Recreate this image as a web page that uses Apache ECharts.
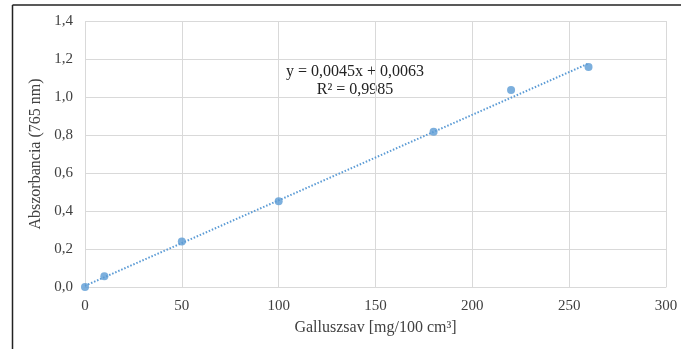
<!DOCTYPE html>
<html>
<head>
<meta charset="utf-8">
<script src="https://cdn.jsdelivr.net/npm/echarts@6/dist/echarts.min.js"></script>
<style>
  html, body { margin: 0; padding: 0; background: #fff; }
  #chart { width: 681px; height: 349px; }
</style>
</head>
<body>
<div id="chart"></div>
<script>
// Calibration standards: gallic acid concentration vs. absorbance at 765 nm
const concentrations = [0, 10, 50, 100, 180, 220, 260];
const absorbances = [0.0, 0.056, 0.240, 0.451, 0.817, 1.037, 1.158];

// Linear fit reported on the chart
const slope = 0.0045;
const intercept = 0.0063;
const rSquared = 0.9985;
const fitRange = [0, 260];

const xTicks = { min: 0, max: 300, interval: 50 };
const yTicks = { min: 0, max: 1.4, interval: 0.2 };

const fmtComma = (v, digits) => v.toFixed(digits).replace('.', ',');

const points = concentrations.map((c, i) => [c, absorbances[i]]);
const fitLine = fitRange.map(x => [x, slope * x + intercept]);

const textColor = '#404040';
const font = 'Liberation Serif';
const blue = '#5B9BD5';

const chart = echarts.init(document.getElementById('chart'), null, { renderer: 'canvas' });
chart.setOption({
  backgroundColor: '#ffffff',
  animation: false,
  grid: { left: 85, right: 15, top: 21, bottom: 62 },
  xAxis: {
    type: 'value',
    min: xTicks.min, max: xTicks.max, interval: xTicks.interval,
    name: 'Galluszsav [mg/100 cm³]',
    nameLocation: 'middle', nameGap: 33,
    nameTextStyle: { color: textColor, fontFamily: font, fontSize: 16 },
    axisLine: { show: true, lineStyle: { color: '#d9d9d9' } },
    axisTick: { show: false },
    axisLabel: { color: textColor, fontFamily: font, fontSize: 15, margin: 12 },
    splitLine: { show: true, lineStyle: { color: '#d9d9d9' } }
  },
  yAxis: {
    type: 'value',
    min: yTicks.min, max: yTicks.max, interval: yTicks.interval,
    name: 'Abszorbancia (765 nm)',
    nameLocation: 'middle', nameGap: 38,
    nameTextStyle: { color: textColor, fontFamily: font, fontSize: 16 },
    axisLine: { show: false },
    axisTick: { show: false },
    axisLabel: { color: textColor, fontFamily: font, fontSize: 15, margin: 12,
      formatter: v => fmtComma(v, 1) },
    splitLine: { show: true, lineStyle: { color: '#d9d9d9' } }
  },
  graphic: [
    // frame edges along the top and left
    { type: 'line', shape: { x1: 12.5, y1: 5, x2: 681, y2: 5 }, style: { stroke: '#222', lineWidth: 1.5 } },
    { type: 'line', shape: { x1: 12.5, y1: 5, x2: 12.5, y2: 349 }, style: { stroke: '#222', lineWidth: 1.5 } },
    {
      type: 'text', x: 355, y: 72,
      style: {
        text: 'y = ' + fmtComma(slope, 4) + 'x + ' + fmtComma(intercept, 4),
        fill: '#222', font: '16px "Liberation Serif"', align: 'center', verticalAlign: 'middle'
      }
    },
    {
      type: 'text', x: 355, y: 90,
      style: {
        text: 'R² = ' + fmtComma(rSquared, 4),
        fill: '#222', font: '16px "Liberation Serif"', align: 'center', verticalAlign: 'middle'
      }
    }
  ],
  series: [
    {
      type: 'line',
      data: fitLine,
      showSymbol: false,
      silent: true,
      lineStyle: { color: blue, width: 2, type: [1.5, 1.8] },
      z: 2
    },
    {
      type: 'scatter',
      data: points,
      symbol: 'circle',
      symbolSize: 8,
      itemStyle: { color: blue },
      z: 3
    }
  ]
});
</script>
</body>
</html>
